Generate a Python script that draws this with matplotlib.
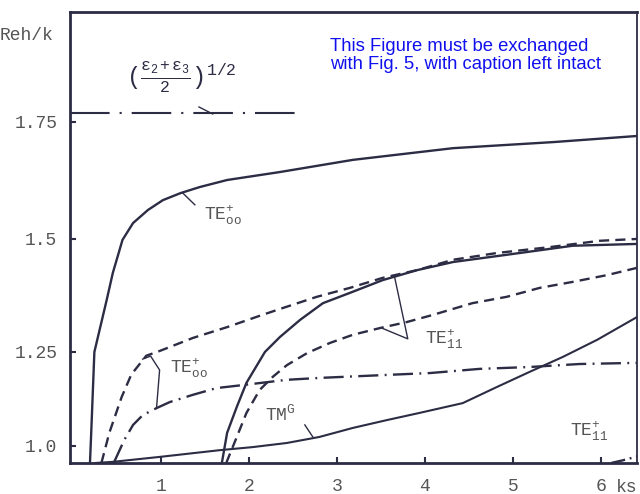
import matplotlib
matplotlib.use('Agg')
import matplotlib.pyplot as plt
import numpy as np

# curves (x = ks, y = Reh/k)
te00_solid_x = [0.19, 0.21, 0.24, 0.38, 0.45, 0.56, 0.68, 0.85, 1.02, 1.22, 1.44, 1.75, 2.35, 3.18, 4.32, 5.46, 6.41]
te00_solid_y = [0.955, 1.07, 1.25, 1.365, 1.425, 1.498, 1.534, 1.562, 1.583, 1.598, 1.611, 1.626, 1.643, 1.669, 1.694, 1.707, 1.72]

te00_dash_x = [0.32, 0.41, 0.55, 0.66, 0.83, 0.98, 1.36, 1.75, 2.12, 2.38, 2.77, 3.15, 3.52, 3.91, 4.32, 4.82, 5.42, 5.99, 6.41]
te00_dash_y = [0.955, 1.035, 1.13, 1.19, 1.24, 1.252, 1.281, 1.305, 1.33, 1.347, 1.372, 1.392, 1.414, 1.431, 1.454, 1.469, 1.482, 1.496, 1.50]

te00_dd_x = [0.46, 0.58, 0.68, 0.79, 0.95, 1.10, 1.36, 1.63, 1.93, 2.43, 2.80, 3.57, 4.06, 4.62, 5.19, 5.76, 6.41]
te00_dd_y = [0.955, 1.016, 1.056, 1.082, 1.101, 1.117, 1.136, 1.154, 1.162, 1.176, 1.181, 1.189, 1.194, 1.205, 1.21, 1.218, 1.221]

te11_solid_x = [1.69, 1.75, 1.86, 1.97, 2.18, 2.35, 2.58, 2.84, 3.15, 3.52, 3.91, 4.32, 4.93, 5.68, 6.41]
te11_solid_y = [0.955, 1.035, 1.104, 1.168, 1.25, 1.283, 1.321, 1.358, 1.381, 1.409, 1.431, 1.449, 1.465, 1.485, 1.489]

te11_dash_x = [1.74, 1.86, 1.97, 2.12, 2.27, 2.43, 2.66, 2.92, 3.18, 3.49, 3.79, 4.09, 4.54, 4.93, 5.31, 5.68, 6.07, 6.41]
te11_dash_y = [0.955, 1.024, 1.088, 1.149, 1.184, 1.215, 1.247, 1.27, 1.288, 1.303, 1.316, 1.332, 1.358, 1.372, 1.392, 1.405, 1.42, 1.436]

tm_x = [0.25, 0.45, 0.98, 1.67, 2.04, 2.43, 2.80, 3.18, 3.57, 3.94, 4.43, 4.82, 5.19, 5.57, 5.96, 6.41]
tm_y = [0.955, 0.958, 0.971, 0.989, 0.997, 1.008, 1.024, 1.048, 1.069, 1.088, 1.114, 1.157, 1.197, 1.237, 1.277, 1.327]

te11_dd_x = [6.12, 6.25, 6.41]
te11_dd_y = [0.955, 0.962, 0.972]

limit_x = [-0.04, 2.63]
limit_y = [1.769, 1.769]

yticks = [1.0, 1.25, 1.5, 1.75]
ytick_labels = ['1.0', '1.25', '1.5', '1.75']
xticks = [1, 2, 3, 4, 5, 6]

# the scanned y axis is not evenly spaced: calibrate value -> height
cal_v = [0.0, 0.955, 1.0, 1.25, 1.5, 1.75, 1.985, 3.0]
cal_p = [-360, 0, 17, 111, 224, 341, 451, 925]


def fwd(v):
    return np.interp(v, cal_v, cal_p)


def inv(p):
    return np.interp(p, cal_p, cal_v)


plt.rcParams['mathtext.fontset'] = 'custom'
plt.rcParams['mathtext.rm'] = 'Liberation Mono'
plt.rcParams['mathtext.it'] = 'Liberation Mono'
mono = 'Liberation Mono'
ink = '#2c2c44'
grey = '#555555'

fig = plt.figure(figsize=(6.4, 4.94), dpi=100)
ax = fig.add_axes([0.109, 0.0628, 0.886, 0.913])
ax.set_yscale('function', functions=(fwd, inv))

lw = 1.7
ax.plot(te00_solid_x, te00_solid_y, color=ink, lw=lw)
ax.plot(te11_solid_x, te11_solid_y, color=ink, lw=lw)
ax.plot(tm_x, tm_y, color=ink, lw=1.5)
ax.plot(te00_dash_x, te00_dash_y, color=ink, lw=lw, dashes=(4.3, 2.6))
ax.plot(te11_dash_x, te11_dash_y, color=ink, lw=lw, dashes=(4.3, 2.6))
ax.plot(te00_dd_x, te00_dd_y, color=ink, lw=lw, dashes=(8.5, 2.7, 0.8, 2.7))
ax.plot(te11_dd_x, te11_dd_y, color=ink, lw=lw, dashes=(6, 2, 0.8, 2))
ax.plot(limit_x, limit_y, color=ink, lw=1.5, dashes=(19, 4.8, 1, 4.8))

ax.set_xlim(-0.04, 6.41)
ax.set_ylim(0.955, 1.985)
ax.set_xticks(xticks)
ax.set_xticklabels([str(t) for t in xticks])
ax.set_yticks(yticks)
ax.set_yticklabels(ytick_labels)
ax.minorticks_off()
ax.tick_params(direction='in', length=4, width=1.5, color=ink, labelcolor=grey,
               labelsize=13, pad=9)
ax.tick_params(axis='x', pad=11)
for lab in ax.get_xticklabels() + ax.get_yticklabels():
    lab.set_family(mono)
for s in ax.spines.values():
    s.set_color(ink)
    s.set_linewidth(2)
ax.spines['right'].set_linewidth(1.3)

# curve labels and leader lines
lab_kw = dict(color=grey, fontsize=13, va='center', ha='left')
ax.text(1.49, 1.55, r'$\mathrm{TE}^{+}_{\mathrm{oo}}$', **lab_kw)
ax.text(1.10, 1.207, r'$\mathrm{TE}^{+}_{\mathrm{oo}}$', **lab_kw)
ax.text(4.00, 1.279, r'$\mathrm{TE}^{+}_{11}$', **lab_kw)
ax.text(2.18, 1.085, r'$\mathrm{TM}^{G}$', **lab_kw)
ax.text(5.65, 1.040, r'$\mathrm{TE}^{+}_{11}$', **lab_kw)
ax.text(1.23, 1.845, r'$(\frac{\varepsilon_2+\varepsilon_3}{2})^{1/2}$', color=ink,
        fontsize=17, ha='center', va='center')

lead = dict(color=ink, lw=1)
ax.plot([1.246, 1.383], [1.598, 1.573], **lead)
ax.plot([0.789, 0.880, 0.982, 0.948], [1.231, 1.239, 1.202, 1.104], **lead)
ax.plot([3.657, 3.805, 3.520], [1.414, 1.279, 1.302], **lead)
ax.plot([2.634, 2.725], [1.056, 1.024], **lead)
ax.plot([1.43, 1.586], [1.782, 1.767], **lead)

fig.text(0.0, 1 - 35 / 494, 'Reh/k', family=mono, color=grey, fontsize=13, va='center')
fig.text(0.963, 1 - 487 / 494, 'ks', family=mono, color=grey, fontsize=13, va='center')
fig.text(330 / 640, 1 - 38 / 494, 'This Figure must be exchanged\nwith Fig. 5, with caption left intact',
         family='Liberation Sans', color='#1010ee', fontsize=13.3, va='top', ha='left',
         linespacing=1.1)

fig.savefig('out.png', dpi=100)
